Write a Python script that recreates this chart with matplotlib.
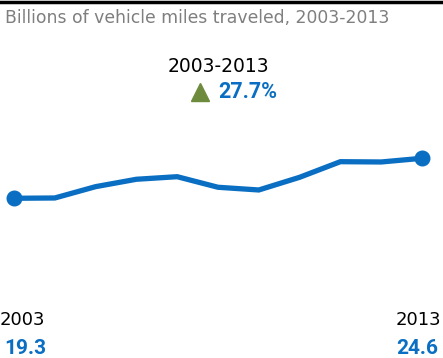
import matplotlib
matplotlib.use("Agg")
import matplotlib.pyplot as plt
from matplotlib.lines import Line2D

years = [2003, 2004, 2005, 2006, 2007, 2008, 2009, 2010, 2011, 2012, 2013]
values = [19.3, 19.34, 20.84, 21.82, 22.16, 20.76, 20.4, 22.08, 24.15, 24.11, 24.6]
title = "Billions of vehicle miles traveled, 2003-2013"
period = "2003-2013"
change = "27.7%"

blue = "#0a6fc2"
W, H = 443, 358
fig = plt.figure(figsize=(W / 100, H / 100), dpi=100)
ax = fig.add_axes([0, 0, 1, 1])
ax.set_xlim(2002.657, 2013.515)
ax.set_ylim(-1.86, 45.57)
ax.axis("off")

ax.plot(years, values, color=blue, lw=3.8, solid_joinstyle="miter", zorder=3)
ax.plot([years[0], years[-1]], [values[0], values[-1]], "o", color=blue, ms=10.5, zorder=4)

def fy(p):
    return 1 - p / H

def fx(p):
    return p / W

num_font = dict(family=["Roboto", "DejaVu Sans"], fontweight="bold")

fig.add_artist(Line2D([0, 1], [fy(1.5), fy(1.5)], color="black", lw=2.5, transform=fig.transFigure))
fig.text(fx(5), fy(18), title, color="#7f7f7f", fontsize=12.4, va="center", ha="left", family="DejaVu Sans")

fig.text(fx(218), fy(67), period, color="black", fontsize=13.5, va="center", ha="center")
fig.add_artist(Line2D([fx(200)], [fy(92)], marker="^", ms=13, color="#6e8b3d", transform=fig.transFigure, lw=0))
fig.text(fx(218), fy(92), change, color=blue, fontsize=15.5, va="center", ha="left", **num_font)

fig.text(fx(0), fy(320), str(years[0]), color="black", fontsize=13, va="center", ha="left")
fig.text(fx(441), fy(320), str(years[-1]), color="black", fontsize=13, va="center", ha="right")
fig.text(fx(4), fy(348), f"{values[0]:.1f}", color=blue, fontsize=15, va="center", ha="left", **num_font)
fig.text(fx(438), fy(348), f"{values[-1]:.1f}", color=blue, fontsize=15, va="center", ha="right", **num_font)

fig.savefig("out.png", dpi=100)
